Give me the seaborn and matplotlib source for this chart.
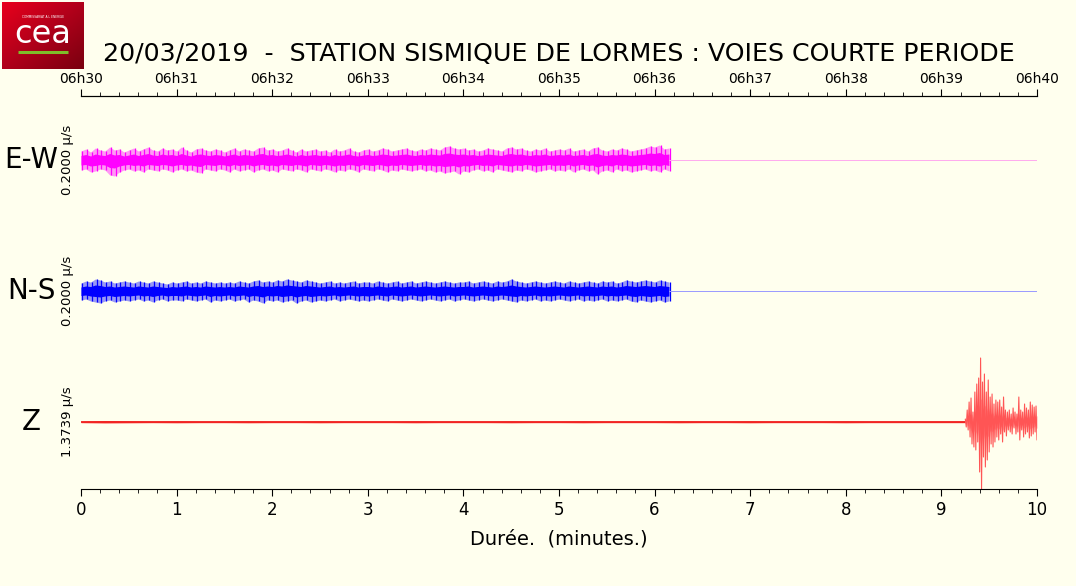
import numpy as np
import pandas as pd
import seaborn as sns
from matplotlib import pyplot as plt
from matplotlib.ticker import MultipleLocator, FixedLocator
from matplotlib.transforms import blended_transform_factory

titre = '20/03/2019  -  STATION SISMIQUE DE LORMES : VOIES COURTE PERIODE'
voies = ['E-W', 'N-S', 'Z']
gains = ['0.2000 µ/s', '0.2000 µ/s', '1.3739 µ/s']
minutes = list(range(11))
heures = ['06h30', '06h31', '06h32', '06h33', '06h34', '06h35',
          '06h36', '06h37', '06h38', '06h39', '06h40']

# enveloppes (en pixels, pas de 0.05 min, de 0 a 6.15 min)
pas_env = 0.05
ew_haut = [9, 11, 8, 12, 10, 9, 13, 10, 11, 8,
           10, 12, 9, 11, 13, 10, 9, 12, 10, 11,
           9, 13, 10, 8, 11, 12, 10, 9, 11, 10,
           8, 10, 12, 9, 11, 10, 9, 12, 13, 10,
           11, 9, 10, 12, 10, 8, 11, 9, 10, 11,
           9, 10, 8, 11, 9, 10, 12, 9, 8, 10,
           11, 9, 10, 12, 11, 9, 10, 11, 12, 10,
           9, 11, 10, 12, 11, 10, 13, 14, 12, 11,
           12, 10, 11, 9, 10, 12, 11, 10, 9, 12,
           13, 11, 12, 10, 9, 11, 10, 12, 9, 10,
           11, 10, 12, 9, 10, 11, 9, 12, 13, 10,
           9, 11, 10, 12, 11, 9, 10, 11, 12, 14,
           13, 15, 11, 12]
ew_bas = [10, 9, 12, 11, 9, 10, 15, 16, 12, 10,
          9, 11, 10, 12, 9, 10, 11, 9, 10, 12,
          10, 9, 11, 10, 12, 13, 9, 10, 11, 9,
          10, 12, 9, 11, 10, 9, 12, 10, 9, 11,
          10, 12, 9, 10, 11, 9, 10, 12, 9, 10,
          11, 9, 10, 12, 10, 11, 9, 10, 12, 9,
          10, 11, 9, 10, 12, 10, 11, 9, 10, 11,
          10, 9, 11, 10, 12, 11, 13, 12, 11, 14,
          11, 12, 10, 9, 11, 10, 12, 9, 10, 11,
          12, 10, 11, 9, 10, 12, 11, 10, 9, 11,
          10, 11, 9, 12, 10, 9, 11, 10, 14, 11,
          10, 12, 9, 11, 10, 12, 11, 10, 9, 11,
          10, 12, 9, 11]
ns_haut = [8, 10, 9, 12, 11, 9, 10, 8, 9, 10,
           9, 8, 10, 9, 8, 10, 9, 8, 7, 9,
           8, 9, 10, 8, 9, 8, 10, 9, 8, 9,
           8, 9, 8, 10, 9, 8, 10, 11, 9, 10,
           9, 11, 10, 12, 11, 10, 9, 11, 10, 9,
           8, 9, 10, 8, 9, 8, 9, 10, 8, 9,
           9, 8, 10, 9, 8, 9, 10, 8, 9, 10,
           8, 9, 10, 9, 8, 9, 10, 9, 8, 9,
           9, 10, 8, 9, 10, 9, 8, 10, 9, 10,
           12, 10, 9, 8, 9, 10, 9, 8, 9, 10,
           9, 8, 10, 9, 8, 9, 10, 9, 8, 10,
           9, 10, 8, 9, 11, 10, 9, 10, 11, 10,
           9, 11, 10, 9]
ns_bas = [9, 8, 10, 11, 12, 10, 9, 11, 10, 9,
          10, 9, 8, 10, 9, 11, 9, 8, 10, 9,
          9, 10, 8, 9, 10, 9, 8, 11, 9, 10,
          9, 8, 10, 9, 8, 11, 9, 10, 12, 9,
          10, 9, 11, 10, 9, 12, 10, 9, 11, 10,
          9, 10, 9, 8, 10, 9, 8, 9, 10, 9,
          10, 9, 8, 9, 10, 8, 9, 10, 9, 8,
          9, 10, 9, 8, 9, 10, 9, 8, 10, 9,
          8, 9, 10, 9, 8, 9, 10, 9, 8, 9,
          10, 11, 9, 10, 9, 8, 10, 9, 10, 9,
          8, 9, 10, 9, 8, 10, 9, 10, 9, 8,
          10, 9, 10, 9, 8, 10, 11, 9, 10, 11,
          10, 9, 11, 10]

# voie Z : bruit de fond (pas 0.25 min jusqu'a 9.25) puis le seisme (pas 0.01 min)
pas_bruit = 0.25
z_bruit = [1.5, 2.5, 2, 1.5, 2, 1.5, 1.5, 2, 1.5, 1.5,
           2, 1.5, 1.5, 1.5, 2, 1.5, 1.5, 1.5, 2, 1.5,
           1.5, 2, 1.5, 1.5, 1.5, 2, 1.5, 1.5, 2, 1.5,
           1.5, 1.5, 2, 1.5, 1.5, 1.5, 1.5, 1.5]
debut_seisme = 9.25
pas_seisme = 0.01
z_seisme = [3, -5, 12, -8, 20, -15, 24, -22, 10, -25,
            30, -28, 38, -20, 44, -50, 64, -67, 40, -35,
            48, -45, 30, -38, 42, -30, 25, -22, 28, -25,
            18, -20, 22, -15, 20, -18, 22, -12, 15, -20,
            25, -10, 12, -14, 10, -8, 12, -10, 8, -12,
            14, -6, 10, -12, 8, -10, 25, -18, 12, -8,
            10, -15, 18, -12, 14, -10, 12, -16, 20, -14,
            17, -12, 15, -10, 16, -18]

ecart = 131.0  # pixels entre deux voies
fond = '#ffffee'

sns.set_style('ticks', rc={'axes.facecolor': fond, 'figure.facecolor': fond,
                           'savefig.facecolor': fond, 'text.color': 'black',
                           'axes.labelcolor': 'black', 'xtick.color': 'black',
                           'axes.edgecolor': 'black'})
plt.rcParams['font.family'] = ['DejaVu Sans']

fig = plt.figure(figsize=(10.76, 5.86), dpi=100)
ax = fig.add_axes([81 / 1076, 1 - 489 / 586, 956 / 1076, 393 / 586])


def trace_bruit(haut, bas, niveau, couleur, couleur_pale):
    x = np.arange(len(haut)) * pas_env
    h = niveau + np.array(haut) / ecart
    b = niveau - np.array(bas) / ecart
    ax.fill_between(x, b, h, color=couleur, alpha=0.4, lw=0)
    ax.fill_between(x, niveau - (niveau - b) * 0.5, niveau + (h - niveau) * 0.5,
                    color=couleur, lw=0)
    ax.vlines(x + pas_env / 4, b, h, color=couleur, lw=0.9)
    sns.lineplot(x=[x[-1], 10], y=[niveau, niveau], ax=ax, color=couleur_pale,
                 lw=0.7, estimator=None)


trace_bruit(ew_haut, ew_bas, 0.0, '#ff00ff', '#ffaaee')
trace_bruit(ns_haut, ns_bas, -1.0, '#0000ff', '#9999ff')

# voie Z
xb = np.arange(len(z_bruit)) * pas_bruit
zb = np.array(z_bruit) / ecart
ax.fill_between(xb, -2 - zb * 0.6, -2 + zb * 0.6, color='#ff4444', alpha=0.5, lw=0)
sns.lineplot(x=xb, y=np.full(len(xb), -2.0), ax=ax, color='#ee0000', lw=1.1,
             estimator=None)
xs = debut_seisme + np.arange(len(z_seisme)) * pas_seisme
df_z = pd.DataFrame({'t': xs, 'v': -2 + np.array(z_seisme) / ecart})
ax.fill_between(xs, -2 - np.abs(z_seisme) / ecart * 0.35, -2 + np.abs(z_seisme) / ecart * 0.35,
                color='#ffb0b0', lw=0)
sns.lineplot(data=df_z, x='t', y='v', ax=ax, color='#ff5555', lw=0.8,
             estimator=None, sort=False)

ax.set_xlim(0, 10)
ax.set_ylim(-2 - 67 / ecart, 64 / ecart)
ax.set_yticks([])
ax.set_ylabel('')
ax.set_xlabel('Durée.  (minutes.)', fontsize=14, labelpad=8)
for s in ['left', 'right']:
    ax.spines[s].set_visible(False)
ax.spines['top'].set_visible(True)
ax.xaxis.set_major_locator(FixedLocator(minutes))
ax.xaxis.set_minor_locator(MultipleLocator(0.2))
ax.tick_params(axis='x', which='major', length=5, labelsize=12, direction='out')
ax.tick_params(axis='x', which='minor', length=3, direction='out')

haut_ax = ax.secondary_xaxis('top')
haut_ax.set_xticks(minutes, heures)
haut_ax.xaxis.set_minor_locator(MultipleLocator(0.2))
haut_ax.tick_params(axis='x', which='major', length=5, labelsize=10, pad=2)
haut_ax.tick_params(axis='x', which='minor', length=3)

trans = blended_transform_factory(fig.transFigure, ax.transData)
for i, (nom, gain) in enumerate(zip(voies, gains)):
    ax.text(31 / 1076, -i, nom, transform=trans, ha='center', va='center',
            fontsize=20)
    ax.text(68 / 1076, -i, gain, transform=trans, ha='center', va='center',
            fontsize=9.5, rotation=90)

fig.text(0.519, 0.908, titre, ha='center', va='center', fontsize=18.2)

# logo
logo = fig.add_axes([2 / 1076, 1 - 69 / 586, 82 / 1076, 67 / 586])
gx, gy = np.meshgrid(np.linspace(0, 1, 60), np.linspace(0, 1, 50))
degrade = gx * 0.5 + gy * 0.5
logo.imshow(degrade, cmap=sns.blend_palette(['#e8001c', '#b0001a', '#7a0010'], as_cmap=True),
            extent=[0, 1, 0, 1], aspect='auto')
logo.text(0.5, 0.52, 'cea', color='white', fontsize=23, ha='center', va='center')
logo.text(0.5, 0.78, 'COMMISSARIAT A L ENERGIE', color='white', fontsize=2.2,
          ha='center', va='center')
logo.plot([0.2, 0.8], [0.26, 0.26], color='#7fbf2a', lw=2.2, solid_capstyle='butt')
logo.set_xlim(0, 1)
logo.set_ylim(0, 1)
logo.axis('off')

fig.savefig('out.png', dpi=100)
